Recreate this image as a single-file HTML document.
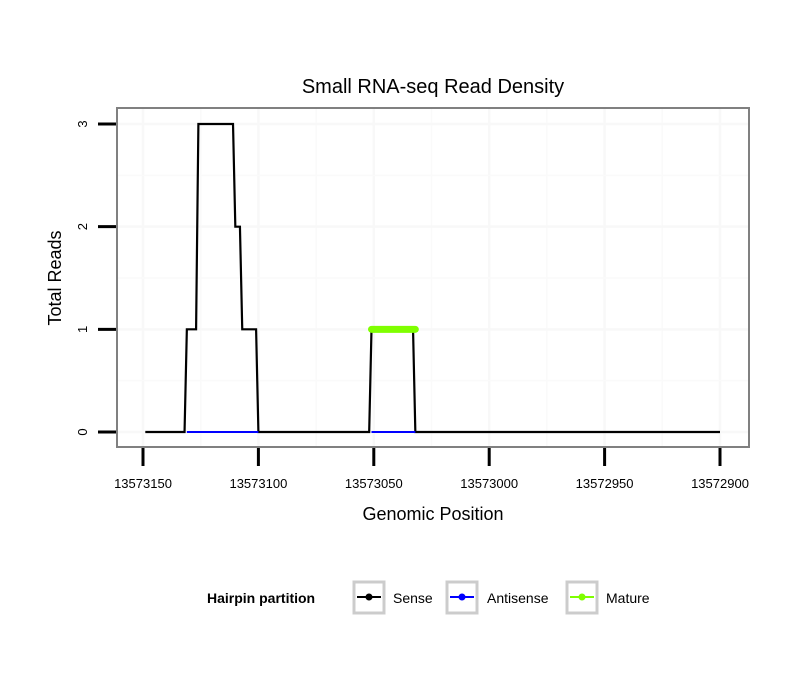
<!DOCTYPE html>
<html><head><meta charset="utf-8"><style>
body{margin:0;background:#fff;font-family:"Liberation Sans",sans-serif}
</style></head><body>
<svg width="810" height="690" viewBox="0 0 810 690" xmlns="http://www.w3.org/2000/svg">
<rect width="810" height="690" fill="#fff"/>
<text x="433" y="93" text-anchor="middle" font-size="20">Small RNA-seq Read Density</text>
<g id="grid"></g>
<rect x="117" y="108" width="632" height="339" fill="none" stroke="#808080" stroke-width="2"/>
<g id="marks"></g>
<g id="axes"></g>
<text x="433" y="520" text-anchor="middle" font-size="18">Genomic Position</text>
<text transform="translate(61,278) rotate(-90)" text-anchor="middle" font-size="18">Total Reads</text>
<g>
<text x="207" y="603" font-size="14" font-weight="bold">Hairpin partition</text>
<g>
<rect x="354" y="582" width="30" height="31" fill="#fff" stroke="#ccc" stroke-width="3"/>
<line x1="357" y1="597" x2="381" y2="597" stroke="#000" stroke-width="2"/><circle cx="369" cy="597" r="3.5" fill="#000"/>
<text x="393" y="603" font-size="14">Sense</text></g>
<g>
<rect x="447" y="582" width="30" height="31" fill="#fff" stroke="#ccc" stroke-width="3"/>
<line x1="450" y1="597" x2="474" y2="597" stroke="#00f" stroke-width="2"/><circle cx="462" cy="597" r="3.5" fill="#00f"/>
<text x="487" y="603" font-size="14">Antisense</text></g>
<g>
<rect x="567" y="582" width="30" height="31" fill="#fff" stroke="#ccc" stroke-width="3"/>
<line x1="570" y1="597" x2="594" y2="597" stroke="#7fff00" stroke-width="2"/><circle cx="582" cy="597" r="3.5" fill="#7fff00"/>
<text x="606" y="603" font-size="14">Mature</text></g>
</g>
</svg>
<script>
const xTicks=[13573150,13573100,13573050,13573000,13572950,13572900];
const xTickLabels=["13573150","13573100","13573050","13573000","13572950","13572900"];
const yTicks=[0,1,2,3];
const yTickLabels=["0","1","2","3"];
const senseX=[13573149,13573132,13573131,13573127,13573126,13573111,13573110,13573108,13573107,13573101,13573100,13573052,13573051,13573033,13573032,13572900];
const senseY=[0,0,1,1,3,3,2,2,1,1,0,0,1,1,0,0];
const antiX=[[13573131,13573100],[13573051,13573032]];
const antiY=[[0,0],[0,0]];
const matureX=[13573051,13573032];
const matureY=[1,1];
const NS="http://www.w3.org/2000/svg";
function sx(v){return 143+(13573150-v)*577/250;}
function sy(v){return 432-v*(432-124)/3;}
function mk(t,a,p){const e=document.createElementNS(NS,t);for(const k in a)e.setAttribute(k,a[k]);p.appendChild(e);return e;}
const grid=document.getElementById('grid'),marks=document.getElementById('marks'),axes=document.getElementById('axes');
for(let v=13573175;v>=13572875;v-=25){const x=sx(v);if(x>118&&x<748){const g=mk('line',{x1:x,x2:x,y1:109,y2:446,stroke:(v%50===0)?'#f8f8f8':'#fafafa','stroke-width':(v%50===0)?2.5:1.5},grid);}}
for(let v=-0.5;v<=3.5;v+=0.5){const y=sy(v);if(y>109&&y<446){const g=mk('line',{x1:118,x2:748,y1:y,y2:y,stroke:(v%1===0)?'#f8f8f8':'#fafafa','stroke-width':(v%1===0)?2.5:1.5},grid);}}
xTicks.forEach((v,i)=>{const x=sx(v);const t=mk('line',{x1:x,x2:x,y1:448,y2:466,stroke:'#000','stroke-width':3},axes);
const l=mk('text',{x:x,y:488,'text-anchor':'middle','font-size':13},axes);l.textContent=xTickLabels[i];});
yTicks.forEach((v,i)=>{const y=sy(v);const t=mk('line',{x1:98,x2:116,y1:y,y2:y,stroke:'#000','stroke-width':3},axes);
const l=mk('text',{transform:`translate(87,${y}) rotate(-90)`,'text-anchor':'middle','font-size':13},axes);l.textContent=yTickLabels[i];});
const sp=mk('polyline',{points:senseX.map((v,i)=>sx(v)+','+sy(senseY[i])).join(' '),fill:'none',stroke:'#000','stroke-width':2.2},marks);

antiX.forEach((seg,j)=>{const a=mk('polyline',{points:seg.map((v,i)=>sx(v)+','+sy(antiY[j][i])).join(' '),fill:'none',stroke:'#00f','stroke-width':2},marks);});
const m=mk('polyline',{points:matureX.map((v,i)=>sx(v)+','+sy(matureY[i])).join(' '),fill:'none',stroke:'#7fff00','stroke-width':7,'stroke-linecap':'round'},marks);

</script>
</body></html>
